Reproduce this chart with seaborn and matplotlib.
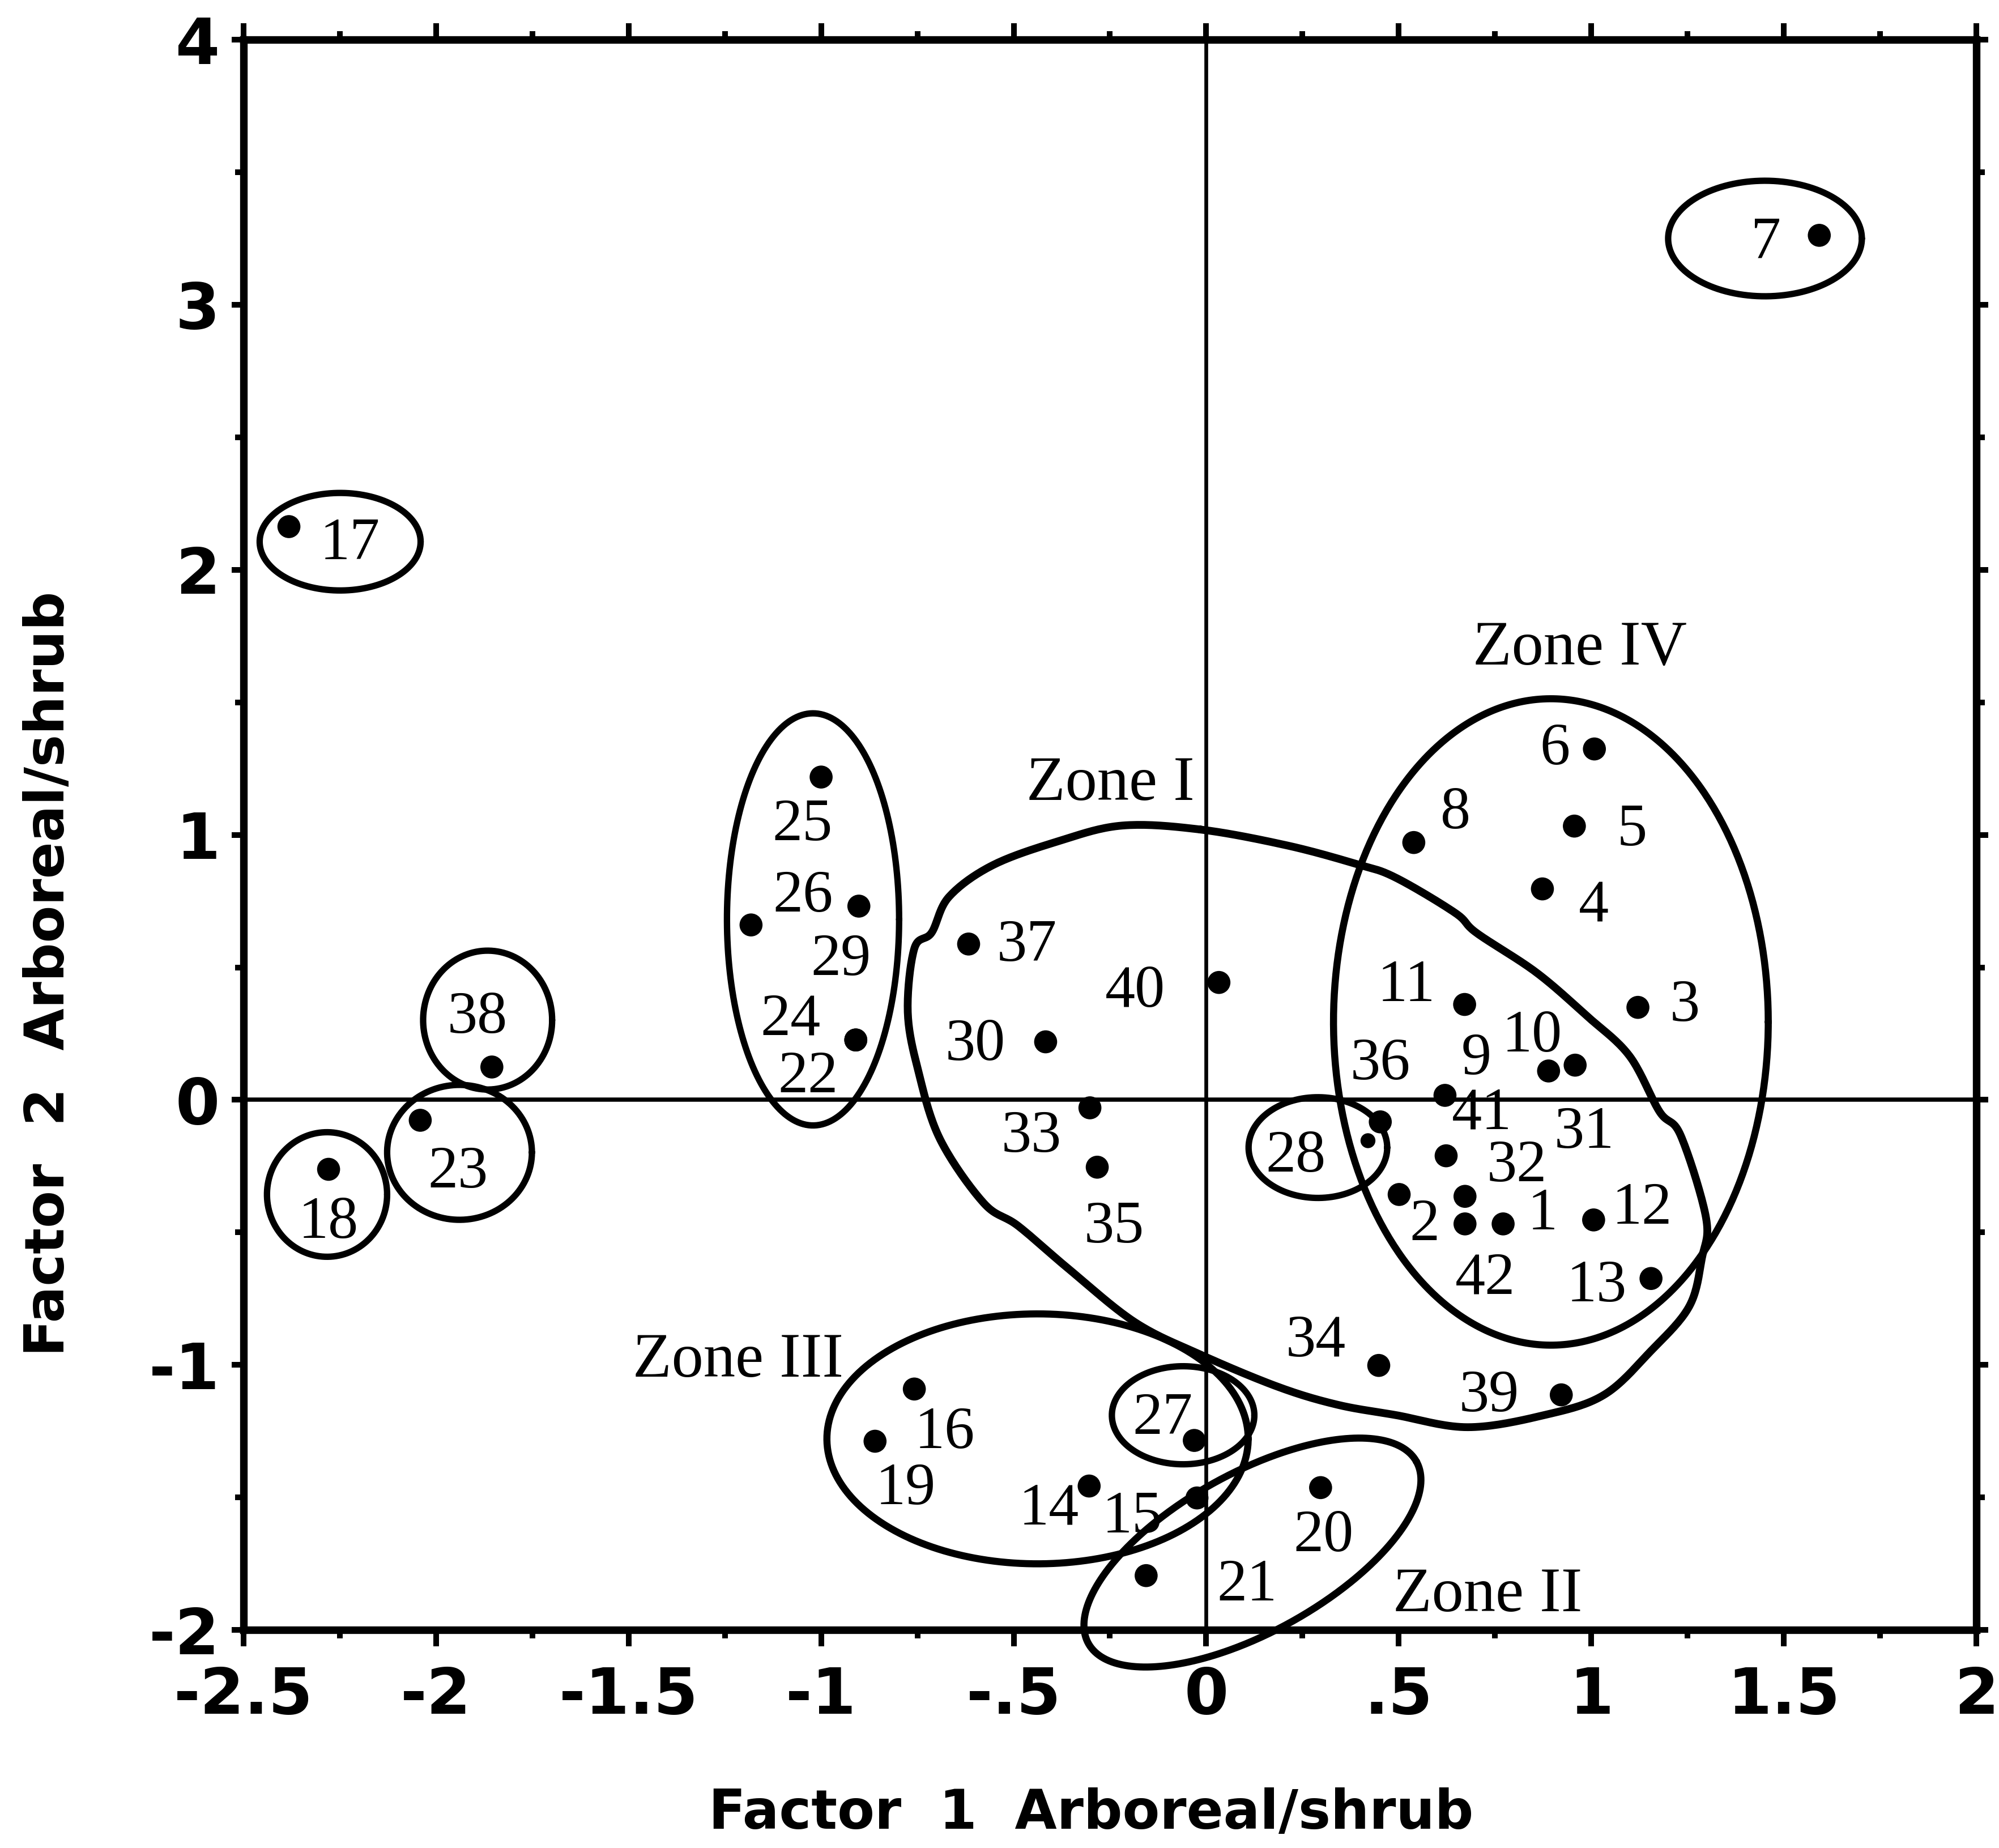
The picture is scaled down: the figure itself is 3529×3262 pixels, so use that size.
import numpy as np
import pandas as pd
import matplotlib
matplotlib.use("Agg")
import matplotlib.pyplot as plt
import seaborn as sns

# ---- sample scores on the first two factors ----
sample_id = list(range(1, 43))
factor1 = [0.771, 0.501, 1.121, 0.873, 0.956, 1.008, 1.592, 0.539, 0.620, 0.889,
           0.671, 1.006, 1.155, -0.304, -0.024, -0.758, -2.382, -2.279, -0.860, 0.297,
           -0.156, -0.910, -2.041, -0.910, -1.000, -1.182, -0.031, 0.420, -0.902, -0.417,
           0.958, 0.623, -0.302, 0.448, -0.283, 0.452, -0.617, -1.855, 0.922, 0.033,
           0.672, 0.672]
factor2 = [-0.468, -0.357, 0.349, 0.796, 1.033, 1.324, 3.262, 0.971, 0.017, 0.109,
           0.360, -0.453, -0.674, -1.457, -1.502, -1.091, 2.163, -0.262, -1.288, -1.463,
           -1.795, 0.226, -0.077, 0.226, 1.218, 0.660, -1.285, -0.154, 0.731, 0.219,
           0.131, -0.211, -0.030, -1.002, -0.254, -0.083, 0.588, 0.124, -1.113, 0.443,
           -0.364, -0.468]

# ---- grouping rings (centre, width in factor-1 units, height in factor-2 units, tilt) ----
ring_f1 = [-2.249, 1.451, -1.866, -1.939, -2.283, -1.021, 0.290, -0.060, -0.438, 0.895, 0.120]
ring_f2 = [2.106, 3.250, 0.301, -0.198, -0.357, 0.681, -0.180, -1.190, -1.279, 0.294, -1.708]
ring_w = [0.418, 0.503, 0.335, 0.376, 0.312, 0.447, 0.360, 0.370, 1.094, 1.129, 0.974]
ring_h = [0.368, 0.436, 0.524, 0.509, 0.470, 1.555, 0.380, 0.370, 0.943, 2.439, 0.600]
ring_tilt = [0, 0, 0, 0, 0, 0, 0, 0, 0, 0, 29]

# ---- Zone I boundary (closed outline) ----
zone1_f1 = [-0.015, 0.210, 0.390, 0.490, 0.646, 0.702, 0.857, 0.989, 1.099, 1.177,
            1.232, 1.298, 1.287, 1.254, 1.155, 1.033, 0.879, 0.679, 0.491, 0.340,
            0.187, -0.015, -0.184, -0.353, -0.488, -0.578, -0.691, -0.747, -0.775, -0.758,
            -0.713, -0.668, -0.555, -0.386, -0.218]
zone1_f2 = [1.020, 0.960, 0.890, 0.840, 0.706, 0.630, 0.481, 0.316, 0.166, -0.044,
            -0.134, -0.446, -0.598, -0.780, -0.947, -1.113, -1.189, -1.235, -1.189, -1.150,
            -1.083, -0.961, -0.840, -0.643, -0.476, -0.389, -0.149, 0.105, 0.331, 0.571,
            0.631, 0.766, 0.885, 0.975, 1.035]

zone_names = ["Zone I", "Zone II", "Zone III", "Zone IV"]
zone_f1 = [-0.248, 0.730, -1.216, 0.970]
zone_f2 = [1.211, -1.849, -0.966, 1.721]

x_ticks = [-2.5, -2.0, -1.5, -1.0, -0.5, 0.0, 0.5, 1.0, 1.5, 2.0]
x_tick_labels = ["-2.5", "-2", "-1.5", "-1", "-.5", "0", ".5", "1", "1.5", "2"]
y_ticks = [-2, -1, 0, 1, 2, 3, 4]
y_tick_labels = ["-2", "-1", "0", "1", "2", "3", "4"]

# where each sample number is written
label_at = {
    1: (0.873, -0.411), 2: (0.567, -0.453), 3: (1.243, 0.376), 4: (1.006, 0.751),
    5: (1.105, 1.038), 6: (0.906, 1.343), 7: (1.454, 3.253), 8: (0.648, 1.103),
    9: (0.702, 0.174), 10: (0.846, 0.259), 11: (0.519, 0.451), 12: (1.132, -0.389),
    13: (1.014, -0.682), 14: (-0.409, -1.523), 15: (-0.192, -1.556), 16: (-0.679, -1.236),
    17: (-2.224, 2.118), 18: (-2.280, -0.444), 19: (-0.780, -1.447), 20: (0.304, -1.626),
    21: (0.106, -1.812), 22: (-1.034, 0.105), 23: (-1.943, -0.254), 24: (-1.079, 0.323),
    25: (-1.048, 1.058), 26: (-1.047, 0.788), 27: (-0.113, -1.184), 28: (0.233, -0.194),
    29: (-0.949, 0.548), 30: (-0.600, 0.228), 31: (0.981, -0.104), 32: (0.806, -0.229),
    33: (-0.454, -0.119), 34: (0.285, -0.891), 35: (-0.240, -0.460), 36: (0.452, 0.156),
    37: (-0.466, 0.601), 38: (-1.892, 0.330), 39: (0.734, -1.098), 40: (-0.184, 0.428),
    41: (0.715, -0.033), 42: (0.724, -0.653),
}

sns.set_theme(style="white")
plt.rcParams["font.family"] = ["DejaVu Sans"]
plt.rcParams["text.color"] = "black"
plt.rcParams["axes.labelcolor"] = "black"
plt.rcParams["xtick.color"] = "black"
plt.rcParams["ytick.color"] = "black"
SERIF = ["Liberation Serif", "DejaVu Serif"]

fig = plt.figure(figsize=(3529 / 300, 3262 / 300), dpi=300)
ax = fig.add_axes([0.1218, 0.1180, 0.8669, 0.8605])
ax.set_xlim(-2.5, 2.0)
ax.set_ylim(-2.0, 4.0)

# reference lines through the origin
ax.axhline(0, color="black", lw=1.8, zorder=1)
ax.axvline(0, color="black", lw=1.6, zorder=1)

df = pd.DataFrame({"sample": sample_id, "factor1": factor1, "factor2": factor2})
df["dot"] = np.where(df["sample"] == 28, 1, 2)
sns.scatterplot(data=df, x="factor1", y="factor2", size="dot", sizes=(40, 95),
                color="black", edgecolor="none", linewidth=0, legend=False,
                ax=ax, zorder=5)

# aspect of the axes in pixels, so tilted rings keep their shape
p0 = ax.transData.transform((0, 0))
px_x = ax.transData.transform((1, 0))[0] - p0[0]
px_y = ax.transData.transform((0, 1))[1] - p0[1]
ratio = px_x / px_y


def ring(cx, cy, w, h, tilt, n=400):
    t = np.linspace(0, 2 * np.pi, n)
    a = w / 2.0
    b = h / 2.0 / ratio
    th = np.deg2rad(tilt)
    u = a * np.cos(t) * np.cos(th) - b * np.sin(t) * np.sin(th)
    v = a * np.cos(t) * np.sin(th) + b * np.sin(t) * np.cos(th)
    return cx + u, cy + v * ratio


for cx, cy, w, h, tilt in zip(ring_f1, ring_f2, ring_w, ring_h, ring_tilt):
    xs, ys = ring(cx, cy, w, h, tilt)
    lw = 3.0 if w > 0.9 else 2.7
    ax.plot(xs, ys, color="black", lw=lw, zorder=3, clip_on=False)


def closed_spline(px, py, per=20):
    pts = np.column_stack([px, py])
    n = len(pts)
    out = []
    s = np.linspace(0, 1, per, endpoint=False)[:, None]
    for i in range(n):
        p0_, p1, p2, p3 = pts[(i - 1) % n], pts[i], pts[(i + 1) % n], pts[(i + 2) % n]
        seg = 0.5 * ((2 * p1) + (-p0_ + p2) * s
                     + (2 * p0_ - 5 * p1 + 4 * p2 - p3) * s ** 2
                     + (-p0_ + 3 * p1 - 3 * p2 + p3) * s ** 3)
        out.append(seg)
    out.append(pts[:1])
    out = np.vstack(out)
    return out[:, 0], out[:, 1]


zx, zy = closed_spline(zone1_f1, zone1_f2)
ax.plot(zx, zy, color="black", lw=3.3, zorder=3, solid_joinstyle="round", clip_on=False)

# sample numbers
num_fs = 25.5
for sid in sample_id:
    lx, ly = label_at[sid]
    ax.annotate(str(sid), xy=(lx, ly), xytext=(0, -0.34 * num_fs),
                textcoords="offset points", ha="center", va="baseline",
                fontsize=num_fs, family=SERIF, color="black", zorder=6)

zone_fs = 27
for name, zx_, zy_ in zip(zone_names, zone_f1, zone_f2):
    ax.annotate(name, xy=(zx_, zy_), xytext=(0, -0.33 * zone_fs),
                textcoords="offset points", ha="center", va="baseline",
                fontsize=zone_fs, family=SERIF, color="black", zorder=6)

# axes frame and ticks
ax.set_xticks(x_ticks)
ax.set_xticklabels(x_tick_labels)
ax.set_xticks(np.arange(-2.25, 2.0, 0.5), minor=True)
ax.set_yticks(y_ticks)
ax.set_yticklabels(y_tick_labels)
ax.set_yticks(np.arange(-1.5, 4.0, 1.0), minor=True)

ax.tick_params(axis="both", which="both", direction="out", bottom=True, top=True,
               left=True, right=True, labeltop=False, labelright=False,
               color="black", labelcolor="black", width=2.4)
ax.tick_params(axis="x", which="major", length=7, pad=8, labelsize=27)
ax.tick_params(axis="x", which="minor", length=3.5)
ax.tick_params(axis="y", which="major", length=5, pad=5, labelsize=27)
ax.tick_params(axis="y", which="minor", length=3.5)
for lab in ax.get_xticklabels() + ax.get_yticklabels():
    lab.set_fontweight("bold")
    lab.set_color("black")

for sp in ax.spines.values():
    sp.set_visible(True)
    sp.set_color("black")
    sp.set_linewidth(3.2)

ax.set_xlabel("Factor  1  Arboreal/shrub", fontsize=23, fontweight="bold",
              va="baseline", color="black")
ax.xaxis.set_label_coords(0.489, -0.125)
ax.set_ylabel("Factor  2  Arboreal/shrub", fontsize=23, fontweight="bold",
              va="baseline", color="black")
ax.yaxis.set_label_coords(-0.1035, 0.4127)

fig.savefig("out.png", dpi=300, facecolor="white")
